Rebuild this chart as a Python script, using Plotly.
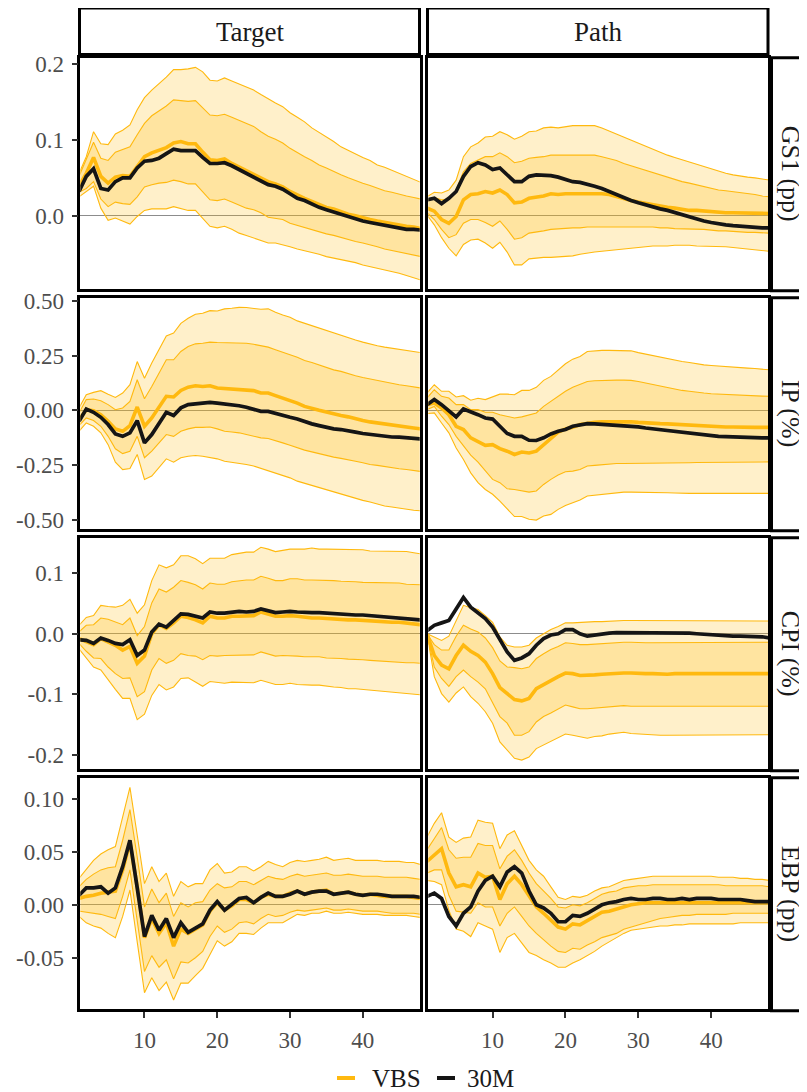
import plotly.graph_objects as go

# ---------------- data ----------------
horizon = list(range(1, 49))
shocks = ["Target", "Path"]
variables = ["GS1 (pp)", "IP (%)", "CPI (%)", "EBP (pp)"]
series_names = ["VBS", "30M"]

# GS1 – Target
gs1_target_vbs = [0.039,0.056,0.077,0.052,0.043,0.051,0.053,0.052,0.065,0.078,0.083,0.086,0.090,0.096,0.098,0.095,0.095,0.084,0.074,0.073,0.075,0.069,0.064,0.060,0.055,0.049,0.045,0.042,0.038,0.032,0.027,0.023,0.019,0.015,0.011,0.009,0.005,0.002,0.000,-0.003,-0.005,-0.007,-0.009,-0.011,-0.012,-0.014,-0.015,-0.017]
gs1_target_30m = [0.032,0.052,0.062,0.036,0.034,0.045,0.050,0.050,0.063,0.072,0.073,0.076,0.082,0.088,0.086,0.086,0.086,0.077,0.069,0.069,0.070,0.066,0.061,0.056,0.052,0.046,0.041,0.039,0.035,0.029,0.023,0.020,0.015,0.011,0.008,0.005,0.001,-0.002,-0.004,-0.007,-0.009,-0.011,-0.012,-0.014,-0.016,-0.018,-0.018,-0.019]
gs1_target_hi90 = [0.056,0.078,0.111,0.095,0.094,0.108,0.113,0.120,0.140,0.156,0.166,0.174,0.183,0.193,0.193,0.194,0.196,0.190,0.179,0.178,0.182,0.178,0.174,0.170,0.166,0.160,0.154,0.149,0.144,0.136,0.130,0.124,0.116,0.110,0.105,0.098,0.091,0.086,0.082,0.077,0.073,0.067,0.064,0.060,0.056,0.052,0.047,0.044]
gs1_target_hi68 = [0.052,0.074,0.097,0.076,0.073,0.084,0.087,0.091,0.107,0.122,0.132,0.138,0.145,0.153,0.152,0.151,0.152,0.143,0.133,0.132,0.134,0.130,0.126,0.122,0.118,0.111,0.105,0.101,0.096,0.089,0.083,0.078,0.073,0.067,0.063,0.058,0.054,0.050,0.046,0.043,0.040,0.036,0.033,0.031,0.029,0.026,0.024,0.022]
gs1_target_lo68 = [0.031,0.036,0.045,0.022,0.012,0.018,0.016,0.015,0.025,0.038,0.041,0.043,0.044,0.047,0.045,0.042,0.042,0.031,0.021,0.020,0.022,0.018,0.014,0.010,0.008,0.004,-0.002,-0.003,-0.005,-0.010,-0.013,-0.015,-0.018,-0.022,-0.024,-0.026,-0.029,-0.032,-0.034,-0.036,-0.038,-0.041,-0.044,-0.046,-0.048,-0.050,-0.052,-0.054]
gs1_target_lo90 = [0.025,0.032,0.039,0.010,-0.006,-0.003,-0.007,-0.011,-0.001,0.007,0.009,0.009,0.009,0.012,0.010,0.007,0.007,-0.004,-0.014,-0.016,-0.014,-0.018,-0.023,-0.026,-0.029,-0.033,-0.036,-0.036,-0.038,-0.041,-0.044,-0.046,-0.049,-0.051,-0.054,-0.056,-0.058,-0.060,-0.062,-0.065,-0.067,-0.069,-0.071,-0.073,-0.076,-0.079,-0.082,-0.085]

# GS1 – Path
gs1_path_vbs = [0.010,0.006,-0.005,-0.010,-0.001,0.021,0.028,0.029,0.032,0.030,0.034,0.028,0.017,0.018,0.023,0.024,0.026,0.029,0.028,0.029,0.029,0.030,0.030,0.030,0.029,0.028,0.025,0.022,0.020,0.018,0.016,0.014,0.012,0.011,0.010,0.008,0.007,0.007,0.006,0.005,0.004,0.004,0.004,0.004,0.004,0.003,0.003,0.003]
gs1_path_30m = [0.021,0.023,0.016,0.023,0.032,0.052,0.065,0.070,0.067,0.061,0.063,0.054,0.045,0.045,0.052,0.054,0.054,0.053,0.051,0.048,0.045,0.044,0.042,0.039,0.036,0.032,0.028,0.023,0.020,0.017,0.014,0.011,0.009,0.007,0.004,0.001,-0.002,-0.004,-0.007,-0.009,-0.011,-0.012,-0.013,-0.014,-0.015,-0.015,-0.016,-0.016]
gs1_path_hi90 = [0.025,0.031,0.030,0.034,0.047,0.078,0.091,0.096,0.104,0.105,0.111,0.107,0.101,0.105,0.111,0.112,0.116,0.117,0.116,0.118,0.119,0.119,0.119,0.119,0.116,0.112,0.108,0.104,0.099,0.096,0.091,0.088,0.084,0.080,0.077,0.074,0.070,0.067,0.064,0.061,0.058,0.056,0.054,0.052,0.051,0.050,0.048,0.047]
gs1_path_hi68 = [0.020,0.024,0.021,0.022,0.034,0.058,0.069,0.074,0.078,0.078,0.083,0.078,0.070,0.072,0.076,0.077,0.078,0.080,0.080,0.080,0.080,0.080,0.080,0.080,0.078,0.076,0.073,0.069,0.066,0.063,0.060,0.056,0.053,0.051,0.047,0.045,0.043,0.041,0.039,0.036,0.034,0.033,0.032,0.030,0.029,0.028,0.026,0.025]
gs1_path_lo68 = [0.004,-0.005,-0.018,-0.029,-0.025,-0.010,-0.005,-0.005,-0.009,-0.014,-0.007,-0.018,-0.031,-0.029,-0.023,-0.022,-0.020,-0.018,-0.017,-0.017,-0.016,-0.016,-0.015,-0.015,-0.015,-0.015,-0.015,-0.015,-0.015,-0.015,-0.015,-0.015,-0.016,-0.016,-0.017,-0.017,-0.018,-0.018,-0.018,-0.019,-0.020,-0.020,-0.021,-0.021,-0.022,-0.022,-0.022,-0.023]
gs1_path_lo90 = [0.001,-0.012,-0.029,-0.043,-0.053,-0.038,-0.032,-0.031,-0.036,-0.043,-0.035,-0.048,-0.065,-0.065,-0.057,-0.056,-0.055,-0.055,-0.054,-0.054,-0.053,-0.051,-0.049,-0.048,-0.047,-0.046,-0.045,-0.044,-0.043,-0.042,-0.041,-0.040,-0.040,-0.040,-0.039,-0.039,-0.039,-0.040,-0.040,-0.040,-0.041,-0.041,-0.042,-0.043,-0.044,-0.045,-0.046,-0.047]

# IP – Target
ip_target_vbs = [-0.043,0.003,-0.002,-0.020,-0.050,-0.085,-0.096,-0.070,0.015,-0.073,-0.035,0.018,0.064,0.061,0.091,0.106,0.112,0.109,0.112,0.102,0.100,0.099,0.097,0.094,0.090,0.079,0.079,0.067,0.056,0.044,0.033,0.018,0.011,0.000,-0.008,-0.017,-0.024,-0.030,-0.040,-0.047,-0.053,-0.058,-0.062,-0.070,-0.073,-0.076,-0.081,-0.085]
ip_target_30m = [-0.050,0.006,-0.009,-0.032,-0.065,-0.108,-0.119,-0.103,-0.047,-0.149,-0.111,-0.058,-0.009,-0.024,0.011,0.026,0.030,0.030,0.036,0.033,0.030,0.026,0.021,0.014,0.006,-0.005,-0.005,-0.015,-0.024,-0.032,-0.040,-0.053,-0.062,-0.070,-0.078,-0.085,-0.088,-0.096,-0.100,-0.106,-0.111,-0.114,-0.119,-0.122,-0.123,-0.126,-0.129,-0.131]
ip_target_hi90 = [0.011,0.071,0.082,0.090,0.074,0.059,0.079,0.117,0.223,0.147,0.216,0.277,0.340,0.353,0.398,0.421,0.439,0.444,0.456,0.454,0.464,0.467,0.471,0.470,0.467,0.462,0.464,0.448,0.436,0.426,0.409,0.398,0.386,0.375,0.363,0.353,0.342,0.330,0.322,0.312,0.302,0.295,0.289,0.284,0.280,0.274,0.269,0.264]
ip_target_hi68 = [-0.012,0.049,0.052,0.044,0.026,0.003,0.011,0.041,0.140,0.053,0.109,0.170,0.231,0.231,0.269,0.292,0.304,0.307,0.312,0.310,0.310,0.310,0.310,0.307,0.302,0.295,0.289,0.277,0.264,0.254,0.243,0.228,0.219,0.208,0.198,0.185,0.178,0.167,0.158,0.150,0.143,0.137,0.131,0.125,0.117,0.112,0.106,0.102]
ip_target_lo68 = [-0.070,-0.035,-0.047,-0.073,-0.119,-0.176,-0.198,-0.187,-0.119,-0.217,-0.187,-0.149,-0.111,-0.119,-0.096,-0.085,-0.078,-0.078,-0.076,-0.085,-0.096,-0.099,-0.103,-0.111,-0.119,-0.126,-0.129,-0.138,-0.149,-0.160,-0.172,-0.182,-0.190,-0.199,-0.207,-0.214,-0.220,-0.228,-0.233,-0.240,-0.248,-0.252,-0.258,-0.263,-0.267,-0.271,-0.275,-0.280]
ip_target_lo90 = [-0.096,-0.058,-0.073,-0.103,-0.157,-0.237,-0.271,-0.266,-0.202,-0.316,-0.301,-0.263,-0.222,-0.237,-0.217,-0.210,-0.207,-0.210,-0.217,-0.222,-0.233,-0.237,-0.243,-0.248,-0.255,-0.266,-0.275,-0.286,-0.298,-0.309,-0.324,-0.334,-0.343,-0.354,-0.365,-0.374,-0.384,-0.395,-0.404,-0.412,-0.419,-0.430,-0.438,-0.442,-0.448,-0.453,-0.457,-0.460]

# IP – Path
ip_path_vbs = [0.026,0.033,0.011,-0.020,-0.073,-0.088,-0.126,-0.141,-0.160,-0.157,-0.175,-0.187,-0.202,-0.191,-0.195,-0.187,-0.157,-0.126,-0.100,-0.085,-0.078,-0.065,-0.058,-0.055,-0.053,-0.052,-0.050,-0.050,-0.052,-0.055,-0.058,-0.059,-0.061,-0.062,-0.064,-0.067,-0.070,-0.071,-0.073,-0.074,-0.076,-0.076,-0.076,-0.078,-0.078,-0.078,-0.078,-0.078]
ip_path_30m = [0.026,0.049,0.026,0.000,-0.030,0.006,-0.005,-0.020,-0.035,-0.040,-0.073,-0.106,-0.119,-0.119,-0.137,-0.138,-0.126,-0.108,-0.096,-0.088,-0.073,-0.065,-0.061,-0.062,-0.064,-0.065,-0.067,-0.068,-0.073,-0.076,-0.081,-0.085,-0.088,-0.093,-0.096,-0.100,-0.105,-0.109,-0.112,-0.116,-0.119,-0.120,-0.122,-0.123,-0.125,-0.126,-0.126,-0.126]
ip_path_hi90 = [0.079,0.117,0.087,0.087,0.061,0.067,0.046,0.055,0.049,0.061,0.074,0.074,0.071,0.091,0.091,0.105,0.137,0.155,0.185,0.213,0.234,0.246,0.269,0.272,0.274,0.274,0.274,0.274,0.272,0.264,0.257,0.249,0.242,0.236,0.229,0.223,0.219,0.213,0.208,0.205,0.202,0.199,0.198,0.196,0.193,0.191,0.188,0.185]
ip_path_hi68 = [0.056,0.094,0.064,0.056,0.026,0.026,0.003,0.003,-0.009,-0.009,-0.020,-0.027,-0.035,-0.030,-0.020,-0.012,0.018,0.041,0.067,0.087,0.105,0.117,0.132,0.135,0.137,0.137,0.138,0.138,0.137,0.132,0.125,0.117,0.109,0.103,0.097,0.091,0.087,0.082,0.079,0.076,0.074,0.073,0.071,0.070,0.068,0.067,0.065,0.064]
ip_path_lo68 = [0.003,0.018,-0.027,-0.065,-0.119,-0.164,-0.205,-0.237,-0.278,-0.316,-0.331,-0.359,-0.362,-0.369,-0.374,-0.369,-0.339,-0.316,-0.296,-0.281,-0.278,-0.271,-0.255,-0.252,-0.248,-0.245,-0.243,-0.243,-0.243,-0.243,-0.243,-0.243,-0.243,-0.242,-0.240,-0.240,-0.240,-0.239,-0.239,-0.237,-0.237,-0.237,-0.237,-0.236,-0.236,-0.236,-0.236,-0.236]
ip_path_lo90 = [-0.015,-0.012,-0.058,-0.103,-0.172,-0.225,-0.286,-0.331,-0.362,-0.384,-0.415,-0.453,-0.486,-0.486,-0.498,-0.502,-0.483,-0.476,-0.453,-0.435,-0.422,-0.410,-0.392,-0.388,-0.384,-0.381,-0.377,-0.374,-0.374,-0.374,-0.375,-0.377,-0.377,-0.377,-0.378,-0.380,-0.380,-0.380,-0.380,-0.380,-0.380,-0.380,-0.380,-0.380,-0.380,-0.380,-0.380,-0.380]

# CPI – Target
cpi_target_vbs = [-0.008,-0.013,-0.018,-0.008,-0.013,-0.019,-0.027,-0.021,-0.049,-0.037,0.000,0.015,0.009,0.018,0.029,0.027,0.023,0.018,0.029,0.026,0.026,0.029,0.029,0.029,0.030,0.036,0.033,0.029,0.029,0.030,0.029,0.027,0.026,0.026,0.025,0.025,0.024,0.023,0.023,0.022,0.021,0.021,0.020,0.019,0.019,0.018,0.016,0.015]
cpi_target_30m = [-0.010,-0.011,-0.016,-0.007,-0.011,-0.016,-0.018,-0.010,-0.036,-0.027,0.003,0.016,0.011,0.022,0.033,0.032,0.029,0.026,0.036,0.034,0.034,0.036,0.037,0.036,0.037,0.041,0.038,0.035,0.036,0.037,0.036,0.035,0.035,0.035,0.034,0.033,0.033,0.032,0.031,0.031,0.030,0.030,0.029,0.027,0.027,0.026,0.025,0.023]
cpi_target_hi90 = [0.014,0.027,0.030,0.047,0.045,0.044,0.047,0.057,0.034,0.048,0.088,0.114,0.109,0.114,0.129,0.129,0.124,0.116,0.125,0.125,0.125,0.131,0.133,0.135,0.135,0.143,0.140,0.136,0.138,0.140,0.140,0.140,0.142,0.140,0.140,0.140,0.139,0.139,0.139,0.139,0.137,0.137,0.137,0.136,0.136,0.136,0.134,0.132]
cpi_target_hi68 = [0.003,0.014,0.015,0.026,0.024,0.019,0.015,0.026,-0.003,0.012,0.051,0.074,0.069,0.077,0.088,0.085,0.081,0.074,0.084,0.082,0.082,0.086,0.088,0.089,0.089,0.095,0.092,0.088,0.088,0.091,0.091,0.089,0.089,0.089,0.088,0.088,0.087,0.087,0.086,0.085,0.085,0.084,0.084,0.084,0.084,0.082,0.082,0.081]
cpi_target_lo68 = [-0.016,-0.029,-0.040,-0.041,-0.055,-0.066,-0.074,-0.073,-0.104,-0.096,-0.060,-0.041,-0.049,-0.044,-0.033,-0.036,-0.037,-0.043,-0.036,-0.037,-0.036,-0.036,-0.035,-0.036,-0.035,-0.030,-0.034,-0.037,-0.036,-0.036,-0.037,-0.038,-0.038,-0.038,-0.040,-0.040,-0.041,-0.042,-0.042,-0.043,-0.044,-0.045,-0.046,-0.047,-0.047,-0.048,-0.048,-0.049]
cpi_target_lo90 = [-0.025,-0.041,-0.055,-0.060,-0.077,-0.092,-0.107,-0.107,-0.142,-0.133,-0.102,-0.084,-0.093,-0.088,-0.074,-0.073,-0.080,-0.087,-0.079,-0.081,-0.082,-0.080,-0.080,-0.081,-0.081,-0.077,-0.080,-0.084,-0.084,-0.082,-0.084,-0.085,-0.085,-0.085,-0.087,-0.088,-0.089,-0.091,-0.091,-0.092,-0.093,-0.095,-0.095,-0.096,-0.097,-0.098,-0.099,-0.101]

# CPI – Path
cpi_path_vbs = [0.000,-0.036,-0.052,-0.058,-0.036,-0.019,-0.029,-0.036,-0.047,-0.066,-0.089,-0.099,-0.109,-0.111,-0.107,-0.091,-0.084,-0.078,-0.071,-0.065,-0.066,-0.069,-0.069,-0.068,-0.067,-0.066,-0.065,-0.065,-0.065,-0.066,-0.066,-0.066,-0.067,-0.067,-0.066,-0.066,-0.066,-0.066,-0.066,-0.066,-0.066,-0.066,-0.066,-0.066,-0.066,-0.066,-0.066,-0.066]
cpi_path_30m = [0.005,0.014,0.018,0.022,0.041,0.060,0.044,0.034,0.025,0.011,-0.011,-0.030,-0.044,-0.040,-0.033,-0.019,-0.008,-0.002,0.000,0.007,0.007,0.000,-0.004,-0.002,0.000,0.001,0.002,0.002,0.002,0.002,0.002,0.002,0.002,0.002,0.002,0.002,0.001,0.000,-0.001,-0.002,-0.002,-0.003,-0.004,-0.004,-0.004,-0.005,-0.005,-0.007]
cpi_path_hi90 = [0.000,-0.005,-0.011,-0.004,0.022,0.047,0.043,0.040,0.030,0.019,-0.005,-0.019,-0.022,-0.022,-0.019,-0.007,0.000,0.007,0.012,0.018,0.018,0.019,0.019,0.020,0.020,0.021,0.021,0.022,0.022,0.022,0.022,0.022,0.022,0.022,0.022,0.022,0.022,0.022,0.021,0.021,0.021,0.021,0.021,0.021,0.021,0.021,0.021,0.021]
cpi_path_hi68 = [0.000,-0.018,-0.027,-0.027,-0.004,0.014,0.008,0.003,-0.007,-0.023,-0.045,-0.055,-0.056,-0.058,-0.055,-0.041,-0.033,-0.026,-0.021,-0.015,-0.016,-0.018,-0.018,-0.017,-0.016,-0.015,-0.015,-0.014,-0.014,-0.015,-0.015,-0.015,-0.015,-0.015,-0.015,-0.015,-0.015,-0.015,-0.015,-0.015,-0.015,-0.015,-0.015,-0.014,-0.014,-0.014,-0.014,-0.014]
cpi_path_lo68 = [0.000,-0.055,-0.074,-0.087,-0.071,-0.060,-0.071,-0.080,-0.091,-0.113,-0.137,-0.148,-0.168,-0.168,-0.162,-0.146,-0.137,-0.131,-0.124,-0.118,-0.121,-0.124,-0.124,-0.123,-0.122,-0.121,-0.120,-0.119,-0.120,-0.120,-0.120,-0.121,-0.121,-0.121,-0.121,-0.121,-0.121,-0.121,-0.121,-0.121,-0.121,-0.121,-0.121,-0.121,-0.120,-0.120,-0.120,-0.120]
cpi_path_lo90 = [0.000,-0.071,-0.099,-0.113,-0.098,-0.088,-0.104,-0.115,-0.129,-0.148,-0.179,-0.192,-0.206,-0.209,-0.204,-0.190,-0.184,-0.179,-0.173,-0.166,-0.168,-0.171,-0.173,-0.170,-0.169,-0.166,-0.165,-0.163,-0.165,-0.166,-0.166,-0.167,-0.168,-0.168,-0.168,-0.168,-0.168,-0.168,-0.168,-0.168,-0.168,-0.168,-0.168,-0.168,-0.167,-0.167,-0.167,-0.167]

# EBP – Target
ebp_target_vbs = [0.006,0.008,0.009,0.011,0.012,0.013,0.033,0.059,0.017,-0.031,-0.013,-0.027,-0.017,-0.039,-0.023,-0.027,-0.023,-0.019,-0.006,0.002,-0.005,-0.001,0.005,0.005,0.002,0.007,0.010,0.008,0.008,0.011,0.013,0.010,0.012,0.013,0.014,0.010,0.011,0.012,0.010,0.009,0.010,0.009,0.008,0.008,0.008,0.008,0.007,0.006]
ebp_target_30m = [0.009,0.016,0.016,0.017,0.011,0.016,0.036,0.061,0.016,-0.030,-0.010,-0.024,-0.013,-0.031,-0.017,-0.026,-0.022,-0.018,-0.005,0.003,-0.005,0.000,0.006,0.007,0.002,0.007,0.011,0.008,0.008,0.010,0.013,0.010,0.012,0.013,0.013,0.010,0.011,0.012,0.010,0.009,0.010,0.010,0.009,0.008,0.008,0.008,0.008,0.007]
ebp_target_hi90 = [0.025,0.034,0.042,0.048,0.052,0.055,0.083,0.111,0.066,0.020,0.036,0.022,0.030,0.008,0.022,0.017,0.020,0.020,0.033,0.039,0.030,0.031,0.036,0.036,0.032,0.036,0.041,0.038,0.036,0.040,0.042,0.041,0.042,0.043,0.045,0.042,0.043,0.044,0.042,0.042,0.042,0.042,0.041,0.041,0.041,0.040,0.040,0.038]
ebp_target_hi68 = [0.017,0.024,0.029,0.033,0.035,0.036,0.061,0.090,0.045,-0.002,0.015,0.002,0.011,-0.011,0.002,-0.002,0.002,0.003,0.014,0.020,0.016,0.017,0.022,0.022,0.019,0.023,0.027,0.025,0.024,0.027,0.029,0.027,0.028,0.029,0.030,0.028,0.028,0.029,0.028,0.027,0.027,0.027,0.026,0.026,0.026,0.026,0.025,0.024]
ebp_target_lo68 = [-0.006,-0.007,-0.008,-0.009,-0.011,-0.013,0.008,0.033,-0.015,-0.063,-0.048,-0.059,-0.052,-0.070,-0.054,-0.055,-0.050,-0.044,-0.030,-0.020,-0.026,-0.023,-0.017,-0.016,-0.018,-0.013,-0.009,-0.011,-0.010,-0.007,-0.005,-0.006,-0.005,-0.004,-0.003,-0.005,-0.005,-0.004,-0.005,-0.006,-0.006,-0.006,-0.007,-0.008,-0.008,-0.008,-0.008,-0.009]
ebp_target_lo90 = [-0.011,-0.017,-0.020,-0.022,-0.027,-0.031,-0.011,0.014,-0.035,-0.083,-0.069,-0.081,-0.073,-0.090,-0.074,-0.074,-0.067,-0.060,-0.047,-0.034,-0.039,-0.035,-0.027,-0.027,-0.028,-0.022,-0.017,-0.017,-0.017,-0.013,-0.009,-0.010,-0.008,-0.008,-0.006,-0.008,-0.008,-0.007,-0.008,-0.009,-0.009,-0.009,-0.010,-0.010,-0.010,-0.010,-0.011,-0.012]

# EBP – Path
ebp_path_vbs = [0.041,0.047,0.053,0.030,0.017,0.019,0.017,0.030,0.026,0.027,0.005,0.020,0.027,0.019,0.008,-0.002,-0.008,-0.014,-0.021,-0.023,-0.018,-0.019,-0.015,-0.011,-0.007,-0.006,-0.004,-0.002,0.000,0.001,0.002,0.002,0.002,0.002,0.002,0.002,0.002,0.002,0.002,0.002,0.002,0.002,0.002,0.002,0.002,0.002,0.002,0.002]
ebp_path_30m = [0.008,0.011,0.006,-0.011,-0.020,-0.008,-0.002,0.013,0.023,0.027,0.017,0.031,0.036,0.030,0.013,0.000,-0.003,-0.008,-0.016,-0.016,-0.010,-0.011,-0.008,-0.004,0.000,0.002,0.003,0.005,0.006,0.005,0.005,0.006,0.006,0.005,0.005,0.006,0.005,0.006,0.006,0.006,0.005,0.005,0.005,0.005,0.004,0.003,0.003,0.003]
ebp_path_hi90 = [0.064,0.077,0.087,0.064,0.059,0.063,0.064,0.080,0.078,0.077,0.053,0.066,0.070,0.056,0.042,0.033,0.027,0.017,0.007,0.005,0.008,0.007,0.009,0.013,0.016,0.017,0.020,0.023,0.024,0.025,0.026,0.027,0.027,0.027,0.027,0.027,0.027,0.027,0.027,0.027,0.026,0.026,0.026,0.025,0.025,0.024,0.024,0.023]
ebp_path_hi68 = [0.052,0.063,0.073,0.052,0.044,0.045,0.045,0.058,0.056,0.056,0.034,0.046,0.052,0.042,0.030,0.020,0.013,0.006,-0.002,-0.003,0.000,-0.001,0.002,0.006,0.010,0.012,0.013,0.016,0.017,0.018,0.018,0.019,0.019,0.019,0.019,0.019,0.019,0.019,0.019,0.019,0.019,0.018,0.018,0.018,0.018,0.018,0.018,0.017]
ebp_path_lo68 = [0.030,0.033,0.033,0.009,-0.006,-0.007,-0.008,0.002,-0.002,-0.002,-0.020,-0.008,-0.002,-0.011,-0.020,-0.027,-0.033,-0.039,-0.044,-0.045,-0.041,-0.042,-0.038,-0.035,-0.031,-0.029,-0.027,-0.023,-0.021,-0.019,-0.017,-0.015,-0.013,-0.012,-0.011,-0.010,-0.010,-0.009,-0.009,-0.009,-0.009,-0.009,-0.008,-0.008,-0.008,-0.008,-0.008,-0.008]
ebp_path_lo90 = [0.023,0.022,0.019,-0.005,-0.023,-0.025,-0.030,-0.017,-0.020,-0.023,-0.045,-0.031,-0.027,-0.036,-0.045,-0.048,-0.052,-0.055,-0.059,-0.059,-0.055,-0.052,-0.048,-0.044,-0.039,-0.035,-0.031,-0.027,-0.024,-0.023,-0.022,-0.021,-0.020,-0.020,-0.019,-0.019,-0.018,-0.018,-0.018,-0.018,-0.018,-0.018,-0.018,-0.017,-0.017,-0.017,-0.017,-0.017]

# axis ticks per row
row_tickvals = [[0.0, 0.1, 0.2], [-0.5, -0.25, 0.0, 0.25, 0.5], [-0.2, -0.1, 0.0, 0.1], [-0.05, 0.0, 0.05, 0.10]]
row_ticktext = [["0.0", "0.1", "0.2"], ["-0.50", "-0.25", "0.00", "0.25", "0.50"], ["-0.2", "-0.1", "0.0", "0.1"], ["-0.05", "0.00", "0.05", "0.10"]]
x_tickvals = [10, 20, 30, 40]

panels = [
    [(gs1_target_lo90, gs1_target_hi90, gs1_target_lo68, gs1_target_hi68, gs1_target_vbs, gs1_target_30m),
     (gs1_path_lo90, gs1_path_hi90, gs1_path_lo68, gs1_path_hi68, gs1_path_vbs, gs1_path_30m)],
    [(ip_target_lo90, ip_target_hi90, ip_target_lo68, ip_target_hi68, ip_target_vbs, ip_target_30m),
     (ip_path_lo90, ip_path_hi90, ip_path_lo68, ip_path_hi68, ip_path_vbs, ip_path_30m)],
    [(cpi_target_lo90, cpi_target_hi90, cpi_target_lo68, cpi_target_hi68, cpi_target_vbs, cpi_target_30m),
     (cpi_path_lo90, cpi_path_hi90, cpi_path_lo68, cpi_path_hi68, cpi_path_vbs, cpi_path_30m)],
    [(ebp_target_lo90, ebp_target_hi90, ebp_target_lo68, ebp_target_hi68, ebp_target_vbs, ebp_target_30m),
     (ebp_path_lo90, ebp_path_hi90, ebp_path_lo68, ebp_path_hi68, ebp_path_vbs, ebp_path_30m)],
]

# ---------------- style / layout ----------------
W, H = 807, 1092
OFF = 8  # page body margin of the browser
FONT = "Liberation Serif"
ORANGE = "#FFB90F"
BAND = "rgba(255,185,15,0.22)"
BLACK = "#151515"
LW = 2.6  # panel border width
TICK_FONT = dict(size=23, color="#4D4D4D", family=FONT)
# panel edges (centre of border lines), page pixels
col_px = [(79.0, 421.0), (427.0, 769.5)]
row_px = [(56.7, 290.7), (296.7, 530.7), (536.7, 770.7), (776.7, 1010.7)]


def fx(px):
    return (px - OFF) / W


def fy(py):
    return 1 - (py - OFF) / H


def row_range(r):
    lo = min(min(min(s) for s in p) for p in panels[r])
    hi = max(max(max(s) for s in p) for p in panels[r])
    pad = 0.05 * (hi - lo)
    return lo - pad, hi + pad


def inset(edge0, edge1, v0, v1):
    """Plotly draws border lines outside the domain: shrink domain by LW/2, keep scale."""
    scale = (v1 - v0) / (edge1 - edge0)
    return (edge0 + LW / 2, edge1 - LW / 2,
            v0 + scale * LW / 2, v1 - scale * LW / 2)


fig = go.Figure()
layout = dict(
    width=W, height=H, margin=dict(l=0, r=0, t=0, b=0, autoexpand=False),
    paper_bgcolor="white", plot_bgcolor="white",
    font=dict(family=FONT, color="#1a1a1a"),
    showlegend=False,
)
shapes = []
annotations = []

for r in range(4):
    ylo, yhi = row_range(r)
    for c in range(2):
        idx = r * 2 + c + 1
        sfx = "" if idx == 1 else str(idx)
        xa, ya = "x" + sfx, "y" + sfx
        lo90, hi90, lo68, hi68, vbs, m30 = panels[r][c]
        edge = dict(color=ORANGE, width=1.1)
        fig.add_trace(go.Scatter(x=horizon, y=lo90, mode="lines", line=edge, xaxis=xa, yaxis=ya,
                                 showlegend=False, hoverinfo="skip"))
        fig.add_trace(go.Scatter(x=horizon, y=hi90, mode="lines", line=edge, fill="tonexty", fillcolor=BAND,
                                 xaxis=xa, yaxis=ya, showlegend=False, hoverinfo="skip"))
        fig.add_trace(go.Scatter(x=horizon, y=lo68, mode="lines", line=edge, xaxis=xa, yaxis=ya,
                                 showlegend=False, hoverinfo="skip"))
        fig.add_trace(go.Scatter(x=horizon, y=hi68, mode="lines", line=edge, fill="tonexty", fillcolor=BAND,
                                 xaxis=xa, yaxis=ya, showlegend=False, hoverinfo="skip"))
        fig.add_trace(go.Scatter(x=horizon, y=vbs, mode="lines", line=dict(color=ORANGE, width=3.6),
                                 name=series_names[0], xaxis=xa, yaxis=ya))
        fig.add_trace(go.Scatter(x=horizon, y=m30, mode="lines", line=dict(color=BLACK, width=3.7),
                                 name=series_names[1], xaxis=xa, yaxis=ya))

        x0, x1, xr0, xr1 = inset(col_px[c][0], col_px[c][1], horizon[0], horizon[-1])
        # y: screen grows downward, so map bottom edge to low value
        yb, yt = row_px[r][1], row_px[r][0]
        yb_in, yt_in, yr0, yr1 = inset(-yb, -yt, ylo, yhi)
        bottom = r == 3
        left = c == 0
        layout["xaxis" + sfx] = dict(
            domain=[fx(x0), fx(x1)], range=[xr0, xr1], anchor=ya,
            showline=True, mirror=True, linecolor="black", linewidth=LW,
            showgrid=False, zeroline=False,
            ticks="outside" if bottom else "", ticklen=6, tickwidth=2, tickcolor="#333333",
            tickvals=x_tickvals, showticklabels=bottom, ticklabelstandoff=2,
            tickfont=TICK_FONT,
        )
        layout["yaxis" + sfx] = dict(
            domain=[fy(-yb_in), fy(-yt_in)], range=[yr0, yr1], anchor=xa,
            showline=True, mirror=True, linecolor="black", linewidth=LW,
            showgrid=False, zeroline=True, zerolinecolor="rgba(0,0,0,0.45)", zerolinewidth=1,
            ticks="outside" if left else "", ticklen=6, tickwidth=2, tickcolor="#333333",
            tickvals=row_tickvals[r], ticktext=row_ticktext[r], showticklabels=left,
            ticklabelstandoff=3,
            tickfont=TICK_FONT,
        )

# column strips (top)
for c, name in enumerate(shocks):
    x0, x1 = col_px[c]
    shapes.append(dict(type="rect", xref="paper", yref="paper", x0=fx(x0 + 0.5), x1=fx(x1 - 1.5),
                       y0=fy(54.5), y1=fy(8), line=dict(color="black", width=3), fillcolor="white"))
    annotations.append(dict(text=name, xref="paper", yref="paper", x=fx((x0 + x1) / 2), y=fy(32),
                            xanchor="center", yanchor="middle", showarrow=False,
                            font=dict(size=27, family=FONT, color="#1a1a1a")))

# row strips (right)
for r, name in enumerate(variables):
    y0, y1 = row_px[r]
    shapes.append(dict(type="rect", xref="paper", yref="paper", x0=fx(771.5), x1=fx(860),
                       y0=fy(y1), y1=fy(y0 + 1), line=dict(color="black", width=3), fillcolor="white"))
    annotations.append(dict(text=name, xref="paper", yref="paper", x=fx(790), y=fy((y0 + y1) / 2),
                            xanchor="center", yanchor="middle", showarrow=False, textangle=90,
                            font=dict(size=26, family=FONT, color="#1a1a1a")))

# legend (key lines + labels)
legend_items = [(series_names[0], ORANGE, 337, 370), (series_names[1], BLACK, 437, 465)]
for name, color, kx, tx in legend_items:
    shapes.append(dict(type="line", xref="paper", yref="paper", x0=fx(kx), x1=fx(kx + 18),
                       y0=fy(1078), y1=fy(1078), line=dict(color=color, width=4)))
    annotations.append(dict(text=name, xref="paper", yref="paper", x=fx(tx), y=fy(1078),
                            xanchor="left", yanchor="middle", showarrow=False,
                            font=dict(size=25, family=FONT, color="#1a1a1a")))

layout["shapes"] = shapes
layout["annotations"] = annotations
fig.update_layout(**layout)
fig.write_html("out.html")
